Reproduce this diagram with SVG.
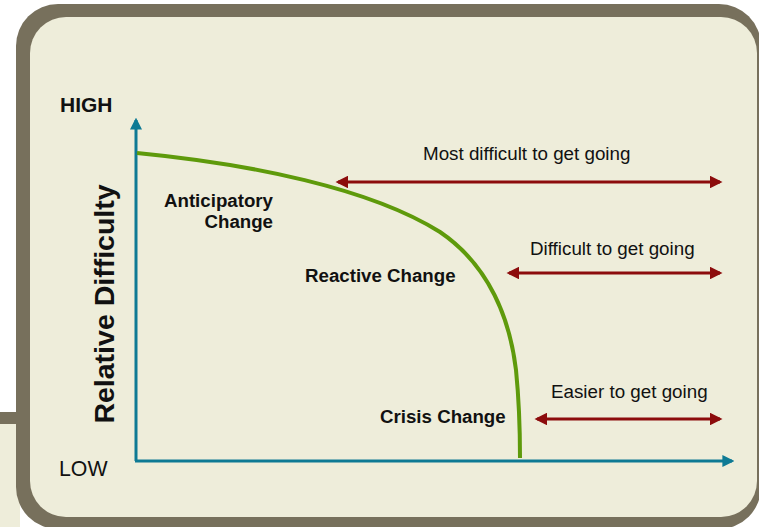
<svg xmlns="http://www.w3.org/2000/svg" width="759" height="527" viewBox="0 0 759 527">
<defs>
<style>
.lbl{font-family:"Liberation Sans",Arial,sans-serif;fill:#111;}
.b{font-weight:bold;font-size:18.7px;}
.r{font-size:18.8px;}
.axis{stroke:#0E7A94;stroke-width:3;fill:none;}
.red{stroke:#8C0C0C;stroke-width:3;fill:none;marker-start:url(#rh);marker-end:url(#rh);}
</style>
<marker id="rh" viewBox="0 0 10 10" refX="8" refY="5" markerWidth="4.2" markerHeight="4.2" orient="auto-start-reverse" markerUnits="strokeWidth">
<path d="M0,0 L10,5 L0,10 Z" fill="#8C0C0C"/>
</marker>
<marker id="th" viewBox="0 0 10 10" refX="8" refY="5" markerWidth="4" markerHeight="4" orient="auto" markerUnits="strokeWidth">
<path d="M0,0 L10,5 L0,10 Z" fill="#0E7A94"/>
</marker>
</defs>
<rect x="0" y="0" width="759" height="527" fill="#FFFFFF"/>
<rect x="0" y="424" width="20" height="103" fill="#EEEDDA"/>
<rect x="0" y="412" width="20" height="12" fill="#77705C"/>
<rect x="16" y="4" width="745" height="525" rx="42" fill="#77705C"/>
<rect x="30" y="17" width="727" height="500" rx="36" fill="#EEEDDA"/>

<g id="connectors">
<line class="axis" x1="136" y1="461" x2="136" y2="120" marker-end="url(#th)"/>
<line class="axis" x1="135" y1="461" x2="732" y2="461" marker-end="url(#th)"/>
<path d="M137,153 C250,164 370,188 440,232 C490,266 510,320 516,370 C520,410 520,440 520,458" fill="none" stroke="#5E9A0B" stroke-width="4"/>
<line class="red" x1="338" y1="182" x2="720" y2="182"/>
<line class="red" x1="509" y1="273" x2="720" y2="273"/>
<line class="red" x1="537" y1="419" x2="720" y2="419"/>
</g>

<g id="high"><text class="lbl" x="60" y="112" font-size="21" font-weight="bold">HIGH</text></g>
<g id="low"><text class="lbl" x="59" y="476" font-size="21.3">LOW</text></g>
<g id="yaxis-label"><text class="lbl" transform="translate(114,304) rotate(-90)" text-anchor="middle" font-size="28.5" font-weight="bold">Relative Difficulty</text></g>
<g id="anticipatory"><text class="lbl b" text-anchor="end" x="273" y="207">Anticipatory</text><text class="lbl b" text-anchor="end" x="273" y="228">Change</text></g>
<g id="reactive"><text class="lbl b" x="305" y="282">Reactive Change</text></g>
<g id="crisis"><text class="lbl b" x="380" y="423">Crisis Change</text></g>
<g id="most"><text class="lbl r" x="423" y="160">Most difficult to get going</text></g>
<g id="difficult"><text class="lbl r" x="530" y="255">Difficult to get going</text></g>
<g id="easier"><text class="lbl r" x="551" y="398">Easier to get going</text></g>
</svg>
